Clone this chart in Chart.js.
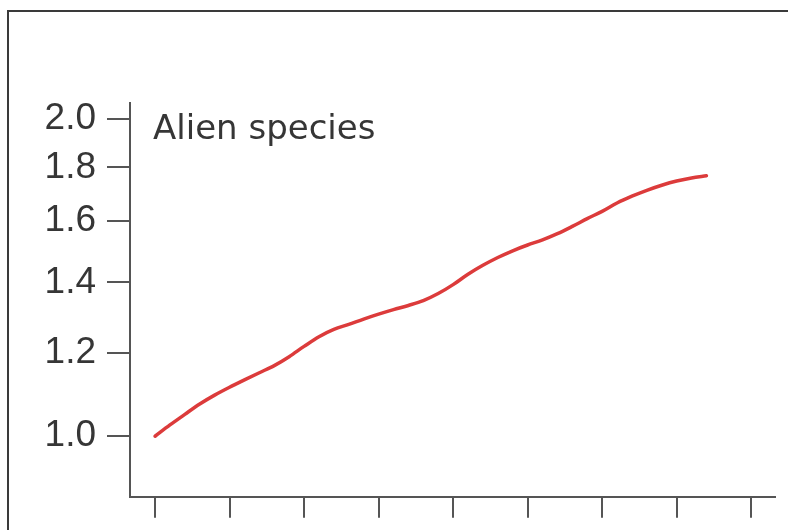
<!DOCTYPE html>
<html>
<head>
<meta charset="utf-8">
<script src="https://cdn.jsdelivr.net/npm/chart.js@4/dist/chart.umd.min.js"></script>
<style>
  html, body { margin: 0; padding: 0; background: #fff; }
  #wrap { position: relative; width: 788px; height: 530px; overflow: hidden; }
  #frame {
    position: absolute; left: 7px; top: 10px; width: 800px; height: 540px;
    border-left: 2px solid #3a3a3a; border-top: 2px solid #3a3a3a;
    pointer-events: none;
  }
  canvas { position: absolute; left: 0; top: 0; }
</style>
</head>
<body>
<div id="wrap">
  <canvas id="chart" width="788" height="530"></canvas>
  <div id="frame"></div>
</div>
<script>
// Years of the record and the relative number of alien species (1970 = 1.0)
const years = [1970, 1971, 1972, 1973, 1974, 1975, 1976, 1977, 1978, 1979,
               1980, 1981, 1982, 1983, 1984, 1985, 1986, 1987, 1988, 1989,
               1990, 1991, 1992, 1993, 1994, 1995, 1996, 1997, 1998, 1999,
               2000, 2001, 2002, 2003, 2004, 2005, 2006, 2007];
const alienSpecies = [1.000, 1.025, 1.049, 1.073, 1.094, 1.113, 1.131, 1.149, 1.167, 1.190,
                      1.217, 1.243, 1.263, 1.277, 1.292, 1.306, 1.319, 1.331, 1.345, 1.366,
                      1.393, 1.425, 1.453, 1.478, 1.500, 1.519, 1.536, 1.557, 1.582, 1.609,
                      1.635, 1.665, 1.690, 1.712, 1.731, 1.747, 1.759, 1.767];
const yTickValues = [1.0, 1.2, 1.4, 1.6, 1.8, 2.0];
const xTickValues = [1970, 1975, 1980, 1985, 1990, 1995, 2000, 2005, 2010];
const seriesLabel = 'Alien species';

const axisColor = '#555555';
const textColor = '#363636';

// Panel caption drawn inside the plotting area
const captionPlugin = {
  id: 'caption',
  afterDraw(chart) {
    const { ctx, chartArea } = chart;
    ctx.save();
    ctx.fillStyle = textColor;
    ctx.font = '34px "DejaVu Sans", Verdana, sans-serif';
    ctx.textAlign = 'left';
    ctx.textBaseline = 'alphabetic';
    ctx.fillText(seriesLabel, chartArea.left + 23, 139);
    ctx.restore();
  }
};

new Chart(document.getElementById('chart'), {
  type: 'line',
  data: {
    datasets: [{
      label: seriesLabel,
      data: years.map((yr, i) => ({ x: yr, y: alienSpecies[i] })),
      borderColor: '#dc3b3b',
      borderWidth: 3.5,
      pointRadius: 0,
      cubicInterpolationMode: 'monotone',
      borderCapStyle: 'round',
      fill: false
    }]
  },
  options: {
    responsive: false,
    animation: false,
    devicePixelRatio: 1,
    layout: { padding: { left: 0, top: 103, right: 13, bottom: 11 } },
    plugins: {
      legend: { display: false },
      tooltip: { enabled: false },
      title: { display: false }
    },
    scales: {
      x: {
        type: 'linear',
        min: 1968.32,
        max: 2011.6,
        afterBuildTicks(scale) { scale.ticks = xTickValues.map(v => ({ value: v })); },
        afterFit(scale) { scale.height = 21; },
        ticks: { display: false },
        grid: {
          drawOnChartArea: false,
          drawTicks: true,
          tickLength: 21,
          color: axisColor,
          lineWidth: 2
        },
        border: { display: true, color: axisColor, width: 2 }
      },
      y: {
        type: 'logarithmic',
        min: 0.876,
        max: 2.072,
        afterBuildTicks(scale) { scale.ticks = yTickValues.map(v => ({ value: v })); },
        afterFit(scale) { scale.width = 130; },
        ticks: {
          padding: 11,
          color: textColor,
          font: { family: '"Liberation Sans", Arial, sans-serif', size: 37 },
          callback: (v) => Number(v).toFixed(1)
        },
        grid: {
          drawOnChartArea: false,
          drawTicks: true,
          tickLength: 23,
          color: axisColor,
          lineWidth: 2
        },
        border: { display: true, color: axisColor, width: 2 }
      }
    }
  },
  plugins: [captionPlugin]
});
</script>
</body>
</html>
